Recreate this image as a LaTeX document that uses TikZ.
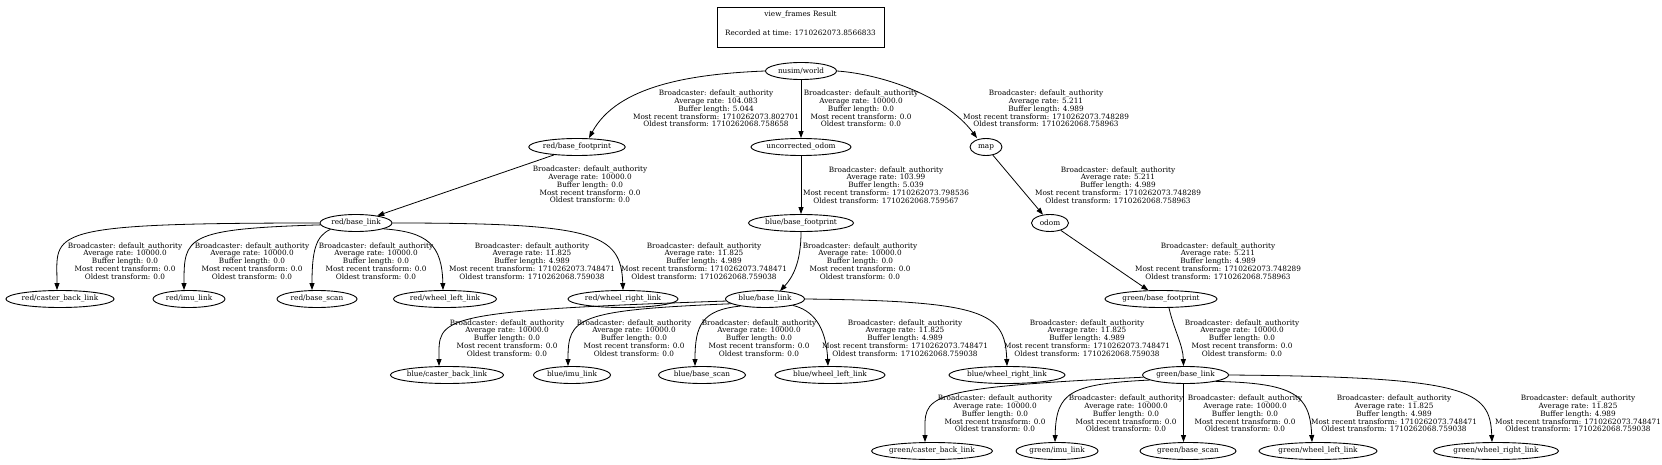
\documentclass[tikz,border=0pt]{standalone}
\usepackage{fontspec}
\setmainfont{DejaVu Serif}
\usetikzlibrary{shapes.geometric,arrows.meta,calc}
\begin{document}
\begin{tikzpicture}[x=1pt,y=-1pt,
  every node/.style={font=\fontsize{7.3}{7.8}\selectfont},
  frame/.style={ellipse,draw,line width=0.9pt,inner sep=0pt,minimum height=17pt},
  lbl/.style={align=center,inner sep=0pt},
  edge/.style={line width=0.8pt,-{Triangle[length=7pt,width=5pt]}}]
\useasboundingbox (0,0) rectangle (1662,465);
% title
\node[draw,line width=0.9pt,minimum width=167pt,minimum height=40pt,inner sep=0pt] (title) at (800.5,27) {};
\node[lbl] (titletext) at (800.5,23.5) {view\_frames Result\\[11.4pt]Recorded at time: 1710262073.8566833};
% frames
\node[frame,minimum width=71pt] (world) at (801,71) {nusim/world};
\node[frame,minimum width=85pt] (redfp) at (577,147) {red/base\_footprint};
\node[frame,minimum width=100pt] (uncorr) at (801,147) {uncorrected\_odom};
\node[frame,minimum width=32pt] (map) at (986,147) {map};
\node[frame,minimum width=72pt] (redbl) at (356,223) {red/base\_link};
\node[frame,minimum width=105pt] (bluefp) at (801,223) {blue/base\_footprint};
\node[frame,minimum width=37pt] (odom) at (1050,223) {odom};
\node[frame,minimum width=112pt] (greenfp) at (1161,299) {green/base\_footprint};
\node[frame,minimum width=108pt] (redcaster) at (60,299) {red/caster\_back\_link};
\node[frame,minimum width=72pt] (redimu) at (189,299) {red/imu\_link};
\node[frame,minimum width=80pt] (redscan) at (317,299) {red/base\_scan};
\node[frame,minimum width=103pt] (redwl) at (445,299) {red/wheel\_left\_link};
\node[frame,minimum width=110pt] (redwr) at (623,299) {red/wheel\_right\_link};
\node[frame,minimum width=79pt] (bluebl) at (765,299) {blue/base\_link};
\node[frame,minimum width=110pt] (bluecaster) at (447,375) {blue/caster\_back\_link};
\node[frame,minimum width=77pt] (blueimu) at (572,375) {blue/imu\_link};
\node[frame,minimum width=87pt] (bluescan) at (702,375) {blue/base\_scan};
\node[frame,minimum width=110pt] (bluewl) at (830,375) {blue/wheel\_left\_link};
\node[frame,minimum width=116pt] (bluewr) at (1007,375) {blue/wheel\_right\_link};
\node[frame,minimum width=86pt] (greenbl) at (1185.5,375) {green/base\_link};
\node[frame,minimum width=114pt] (greencaster) at (932,451) {green/caster\_back\_link};
\node[frame,minimum width=82pt] (greenimu) at (1057,451) {green/imu\_link};
\node[frame,minimum width=96pt] (greenscan) at (1188,451) {green/base\_scan};
\node[frame,minimum width=118pt] (greenwl) at (1318,451) {green/wheel\_left\_link};
\node[frame,minimum width=125pt] (greenwr) at (1496,451) {green/wheel\_right\_link};
% edges
\draw[edge] (world.west) .. controls (690,74) and (617,86) .. ($(redfp.north)+(12,0)$);
\draw[edge] (world.south) -- (uncorr.north);
\draw[edge] (world.east) .. controls (880,74) and (945,95) .. ($(map.north)+(-9,0)$);
\draw[edge] (redfp) -- (redbl);
\draw[edge] (uncorr.south) -- (bluefp.north);
\draw[edge] (map) -- (odom);
\draw[edge] (bluefp.south) .. controls (801,262) and (793,277) .. ($(bluebl.north)+(15,1)$);
\draw[edge] (odom) -- (greenfp);
\draw[edge] ($(greenfp.south)+(8,0)$) .. controls (1174,330) and (1183,345) .. ($(greenbl.north)+(-2,0)$);
% red children
\draw[edge] (redbl.west) .. controls (40,223) and (57,232) .. ($(redcaster.north)+(-3,0)$);
\draw[edge] (redbl.183) .. controls (185,229) and (184,237) .. ($(redimu.north)+(-5,0)$);
\draw[edge] (redbl.194) .. controls (316,236) and (312,250) .. ($(redscan.north)+(-5,0)$);
\draw[edge] (redbl.-12) .. controls (428,232) and (442,245) .. ($(redwl.north)+(-2,0)$);
\draw[edge] (redbl.east) .. controls (595,223) and (621,233) .. (redwr.north);
% blue children
\draw[edge] (bluebl.183) .. controls (430,311) and (439,318) .. ($(bluecaster.north)+(-8,0)$);
\draw[edge] (bluebl.188) .. controls (575,310) and (568,318) .. ($(blueimu.north)+(-4,0)$);
\draw[edge] (bluebl.196) .. controls (702,310) and (695,325) .. ($(bluescan.north)+(-7,0)$);
\draw[edge] (bluebl.-13) .. controls (812,310) and (826,325) .. ($(bluewl.north)+(-2,0)$);
\draw[edge] (bluebl.east) .. controls (985,301) and (1005,312) .. (bluewr.north);
% green children
\draw[edge] (greenbl.183) .. controls (915,388) and (925,396) .. ($(greencaster.north)+(-7,0)$);
\draw[edge] (greenbl.188) .. controls (1070,384) and (1056,392) .. ($(greenimu.north)+(-2,0)$);
\draw[edge] ($(greenbl.south)+(-2,0)$) -- ($(greenscan.north)+(-4.5,0)$);
\draw[edge] (greenbl.-12) .. controls (1295,383) and (1310,395) .. ($(greenwl.north)+(-6,0)$);
\draw[edge] (greenbl.east) .. controls (1470,377) and (1490,390) .. ($(greenwr.north)+(-4,0)$);
% labels
\node[lbl] (l1) at (716,108.5) {Broadcaster: default\_authority\\Average rate: 104.083\\Buffer length: 5.044\\Most recent transform: 1710262073.802701\\Oldest transform: 1710262068.758658};
\node[lbl] (l2) at (861,108.5) {Broadcaster: default\_authority\\Average rate: 10000.0\\Buffer length: 0.0\\Most recent transform: 0.0\\Oldest transform: 0.0};
\node[lbl] (l3) at (1046,108.5) {Broadcaster: default\_authority\\Average rate: 5.211\\Buffer length: 4.989\\Most recent transform: 1710262073.748289\\Oldest transform: 1710262068.758963};
\node[lbl] (l4) at (590,184.5) {Broadcaster: default\_authority\\Average rate: 10000.0\\Buffer length: 0.0\\Most recent transform: 0.0\\Oldest transform: 0.0};
\node[lbl] (l5) at (886,185) {Broadcaster: default\_authority\\Average rate: 103.99\\Buffer length: 5.039\\Most recent transform: 1710262073.798536\\Oldest transform: 1710262068.759567};
\node[lbl] (l6) at (1118,185) {Broadcaster: default\_authority\\Average rate: 5.211\\Buffer length: 4.989\\Most recent transform: 1710262073.748289\\Oldest transform: 1710262068.758963};
\node[lbl] (l7) at (860,261) {Broadcaster: default\_authority\\Average rate: 10000.0\\Buffer length: 0.0\\Most recent transform: 0.0\\Oldest transform: 0.0};
\node[lbl] (l8) at (1218,261) {Broadcaster: default\_authority\\Average rate: 5.211\\Buffer length: 4.989\\Most recent transform: 1710262073.748289\\Oldest transform: 1710262068.758963};
\node[lbl] (l9) at (1242,338) {Broadcaster: default\_authority\\Average rate: 10000.0\\Buffer length: 0.0\\Most recent transform: 0.0\\Oldest transform: 0.0};
% red labels
\node[lbl] (lr1) at (125,261) {Broadcaster: default\_authority\\Average rate: 10000.0\\Buffer length: 0.0\\Most recent transform: 0.0\\Oldest transform: 0.0};
\node[lbl] (lr2) at (252,261) {Broadcaster: default\_authority\\Average rate: 10000.0\\Buffer length: 0.0\\Most recent transform: 0.0\\Oldest transform: 0.0};
\node[lbl] (lr3) at (376,261) {Broadcaster: default\_authority\\Average rate: 10000.0\\Buffer length: 0.0\\Most recent transform: 0.0\\Oldest transform: 0.0};
\node[lbl] (lr4) at (532,261) {Broadcaster: default\_authority\\Average rate: 11.825\\Buffer length: 4.989\\Most recent transform: 1710262073.748471\\Oldest transform: 1710262068.759038};
\node[lbl] (lr5) at (704,261) {Broadcaster: default\_authority\\Average rate: 11.825\\Buffer length: 4.989\\Most recent transform: 1710262073.748471\\Oldest transform: 1710262068.759038};
% blue labels
\node[lbl] (lb1) at (507,338) {Broadcaster: default\_authority\\Average rate: 10000.0\\Buffer length: 0.0\\Most recent transform: 0.0\\Oldest transform: 0.0};
\node[lbl] (lb2) at (634,338) {Broadcaster: default\_authority\\Average rate: 10000.0\\Buffer length: 0.0\\Most recent transform: 0.0\\Oldest transform: 0.0};
\node[lbl] (lb3) at (759,338) {Broadcaster: default\_authority\\Average rate: 10000.0\\Buffer length: 0.0\\Most recent transform: 0.0\\Oldest transform: 0.0};
\node[lbl] (lb4) at (905,338) {Broadcaster: default\_authority\\Average rate: 11.825\\Buffer length: 4.989\\Most recent transform: 1710262073.748471\\Oldest transform: 1710262068.759038};
\node[lbl] (lb5) at (1087,338) {Broadcaster: default\_authority\\Average rate: 11.825\\Buffer length: 4.989\\Most recent transform: 1710262073.748471\\Oldest transform: 1710262068.759038};
% green labels
\node[lbl] (lg1) at (995,413.5) {Broadcaster: default\_authority\\Average rate: 10000.0\\Buffer length: 0.0\\Most recent transform: 0.0\\Oldest transform: 0.0};
\node[lbl] (lg2) at (1126,413.5) {Broadcaster: default\_authority\\Average rate: 10000.0\\Buffer length: 0.0\\Most recent transform: 0.0\\Oldest transform: 0.0};
\node[lbl] (lg3) at (1245,413.5) {Broadcaster: default\_authority\\Average rate: 10000.0\\Buffer length: 0.0\\Most recent transform: 0.0\\Oldest transform: 0.0};
\node[lbl] (lg4) at (1394,413.5) {Broadcaster: default\_authority\\Average rate: 11.825\\Buffer length: 4.989\\Most recent transform: 1710262073.748471\\Oldest transform: 1710262068.759038};
\node[lbl] (lg5) at (1578,413.5) {Broadcaster: default\_authority\\Average rate: 11.825\\Buffer length: 4.989\\Most recent transform: 1710262073.748471\\Oldest transform: 1710262068.759038};
\end{tikzpicture}
\end{document}
